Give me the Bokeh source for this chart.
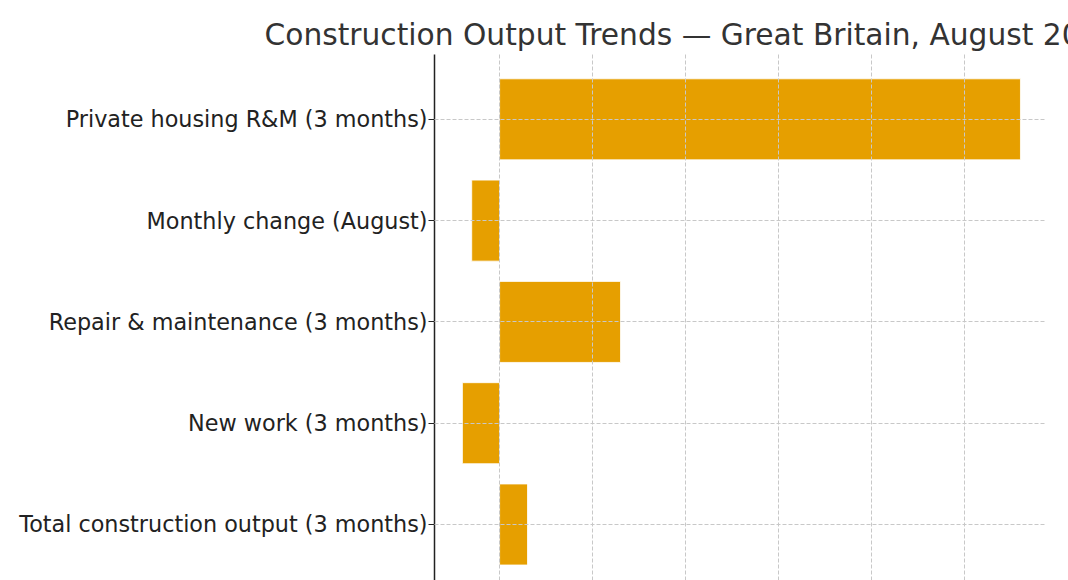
from bokeh.plotting import figure
from bokeh.models import Range1d, FixedTicker
from bokeh.embed import file_html
from bokeh.resources import INLINE

# Data (bottom to top, as drawn)
categories = [
    "Total construction output (3 months)",
    "New work (3 months)",
    "Repair & maintenance (3 months)",
    "Monthly change (August)",
    "Private housing R&M (3 months)",
]
values = [0.3, -0.4, 1.3, -0.3, 5.6]
x_ticks = [0, 1, 2, 3, 4, 5]
title_text = "Construction Output Trends \u2014 Great Britain, August 2025"

positions = list(range(len(categories)))

p = figure(
    width=1068, height=580,
    x_range=Range1d(-0.7, 5.88),
    y_range=Range1d(-0.553, 4.64),
    output_backend="svg", toolbar_location=None,
    min_border_left=434, min_border_right=22,
    min_border_top=54, min_border_bottom=0,
    background_fill_color="white", border_fill_color="white",
)
p.outline_line_color = None

p.hbar(y=positions, left=0, right=values, height=0.8,
       fill_color="#E69F00", line_color="white", line_width=0.8)

# title
p.title.text = title_text
p.title.text_font = "DejaVu Sans"
p.title.text_font_size = "29.7px"
p.title.text_font_style = "normal"
p.title.text_color = "#333333"
p.title.align = "left"
p.title.offset = -170
p.title.standoff = 6

# axes
p.xaxis.visible = False
p.xaxis.ticker = FixedTicker(ticks=x_ticks)

ya = p.yaxis[0]
ya.ticker = FixedTicker(ticks=positions)
ya.major_label_overrides = {i: c for i, c in zip(positions, categories)}
ya.major_label_text_font = "DejaVu Sans"
ya.major_label_text_font_size = "22.3px"
ya.major_label_text_color = "#222222"
ya.major_label_standoff = 1
ya.major_tick_out = 6
ya.major_tick_in = 0
ya.minor_tick_out = 0
ya.minor_tick_in = 0
ya.axis_line_color = "#222222"
ya.axis_line_width = 1.5
ya.major_tick_line_color = "#222222"
ya.major_tick_line_width = 1.2

# grid
for g in (p.xgrid[0], p.ygrid[0]):
    g.grid_line_color = "#c8c8c8"
    g.grid_line_dash = "4 2"
    g.grid_line_width = 1
    g.level = "overlay"
p.ygrid[0].ticker = FixedTicker(ticks=positions)

open("out.html", "w").write(file_html(p, INLINE))
